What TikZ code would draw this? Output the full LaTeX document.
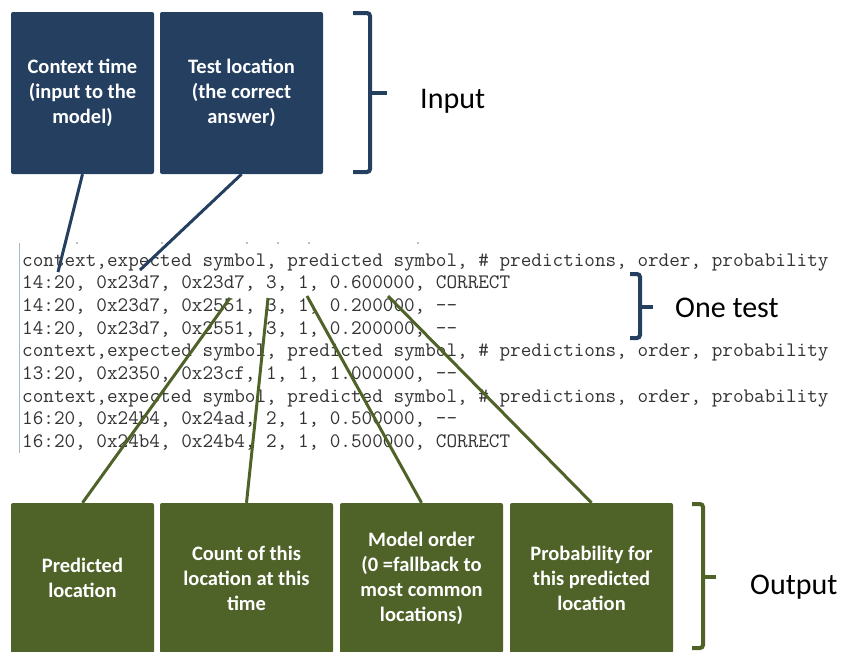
\documentclass[tikz,border=0pt]{standalone}
\usepackage{fontspec}
\setmainfont{Carlito}
\definecolor{navy}{HTML}{243F60}
\definecolor{olive}{HTML}{4F6228}
\definecolor{codegray}{HTML}{333333}
\definecolor{rulegray}{HTML}{A9B9CB}
\tikzset{
  boxbase/.style={rectangle, rounded corners=2pt, text=white, align=center,
    font=\bfseries\fontsize{20.5}{25}\selectfont, inner sep=2pt},
  bluebox/.style={boxbase, fill=navy, minimum height=162pt},
  greenbox/.style={boxbase, fill=olive, minimum height=150pt},
  blueline/.style={draw=navy, line width=3pt},
  greenline/.style={draw=olive, line width=3pt},
  bracket/.style={line width=4pt, rounded corners=3pt},
  codeline/.style={anchor=base west, inner sep=0pt, text=codegray,
    font=\ttfamily\fontsize{20.6}{22}\selectfont},
  biglabel/.style={anchor=base west, inner sep=0pt, text=black,
    font=\fontsize{30}{32}\selectfont},
  dotmark/.style={fill=gray!70, draw=none}
}
\begin{document}
\begin{tikzpicture}[x=1pt,y=-1pt]
\useasboundingbox (0,0) rectangle (845,651);

% input boxes
\node[bluebox, minimum width=143pt] (ctx) at (82.5,93) {Context time\\(input to the\\model)};
\node[bluebox, minimum width=163pt] (tst) at (241.5,93) {Test location\\(the correct\\answer)};

% output boxes
\node[greenbox, minimum width=143pt] (pred) at (82.5,578) {Predicted\\location};
\node[greenbox, minimum width=173pt] (cnt) at (246.5,578) {Count of this\\location at this\\time};
\node[greenbox, minimum width=163pt] (ord) at (421.5,578) {Model order\\(0 =fallback to\\most common\\locations)};
\node[greenbox, minimum width=163pt] (prob) at (591.5,578) {Probability for\\this predicted\\location};

% code listing
\draw[rulegray, line width=1pt] (19,243) -- (19,453);
\foreach \dx in {77,162,247,278,309,418} \fill[dotmark] (\dx,243) circle (1.1pt);
\node[codeline] (r0) at (22,266.0) {context,expected symbol, predicted symbol, \# predictions, order, probability};
\node[codeline] (r1) at (22,288.7) {14:20, 0x23d7, 0x23d7, 3, 1, 0.600000, CORRECT};
\node[codeline] (r2) at (22,311.4) {14:20, 0x23d7, 0x2551, 3, 1, 0.200000, --};
\node[codeline] (r3) at (22,334.1) {14:20, 0x23d7, 0x2551, 3, 1, 0.200000, --};
\node[codeline] (r4) at (22,356.8) {context,expected symbol, predicted symbol, \# predictions, order, probability};
\node[codeline] (r5) at (22,379.5) {13:20, 0x2350, 0x23cf, 1, 1, 1.000000, --};
\node[codeline] (r6) at (22,402.2) {context,expected symbol, predicted symbol, \# predictions, order, probability};
\node[codeline] (r7) at (22,424.9) {16:20, 0x24b4, 0x24ad, 2, 1, 0.500000, --};
\node[codeline] (r8) at (22,447.6) {16:20, 0x24b4, 0x24b4, 2, 1, 0.500000, CORRECT};

% connector ends in the listing
\coordinate (eCtx) at (58,272);
\coordinate (eTst) at (140,270);
\coordinate (ePred) at (230,298);
\coordinate (eCnt) at (268,298);
\coordinate (eOrd) at (307,296);
\coordinate (eProb) at (388,296);

\draw[blueline] (ctx.south) -- (eCtx);
\draw[blueline] (tst.south) -- (eTst);
\draw[greenline] (pred.north) -- (ePred);
\draw[greenline] (cnt.north) -- (eCnt);
\draw[greenline] (ord.north) -- (eOrd);
\draw[greenline] (prob.north) -- (eProb);

% brackets
\draw[bracket, navy] (353,13) -- (370,13) -- (370,172) -- (353,172);
\draw[line width=4pt, navy] (370,93) -- (387,93);
\draw[bracket, navy] (630,274) -- (640,274) -- (640,338) -- (630,338);
\draw[line width=4pt, navy] (640,307) -- (653,307);
\draw[bracket, olive] (692,504) -- (703,504) -- (703,648) -- (692,648);
\draw[line width=4pt, olive] (703,577) -- (716,577);

% labels
\node[biglabel] (lin) at (420,108) {Input};
\node[biglabel] (ltest) at (675,317) {One test};
\node[biglabel] (lout) at (750,594) {Output};
\end{tikzpicture}
\end{document}
